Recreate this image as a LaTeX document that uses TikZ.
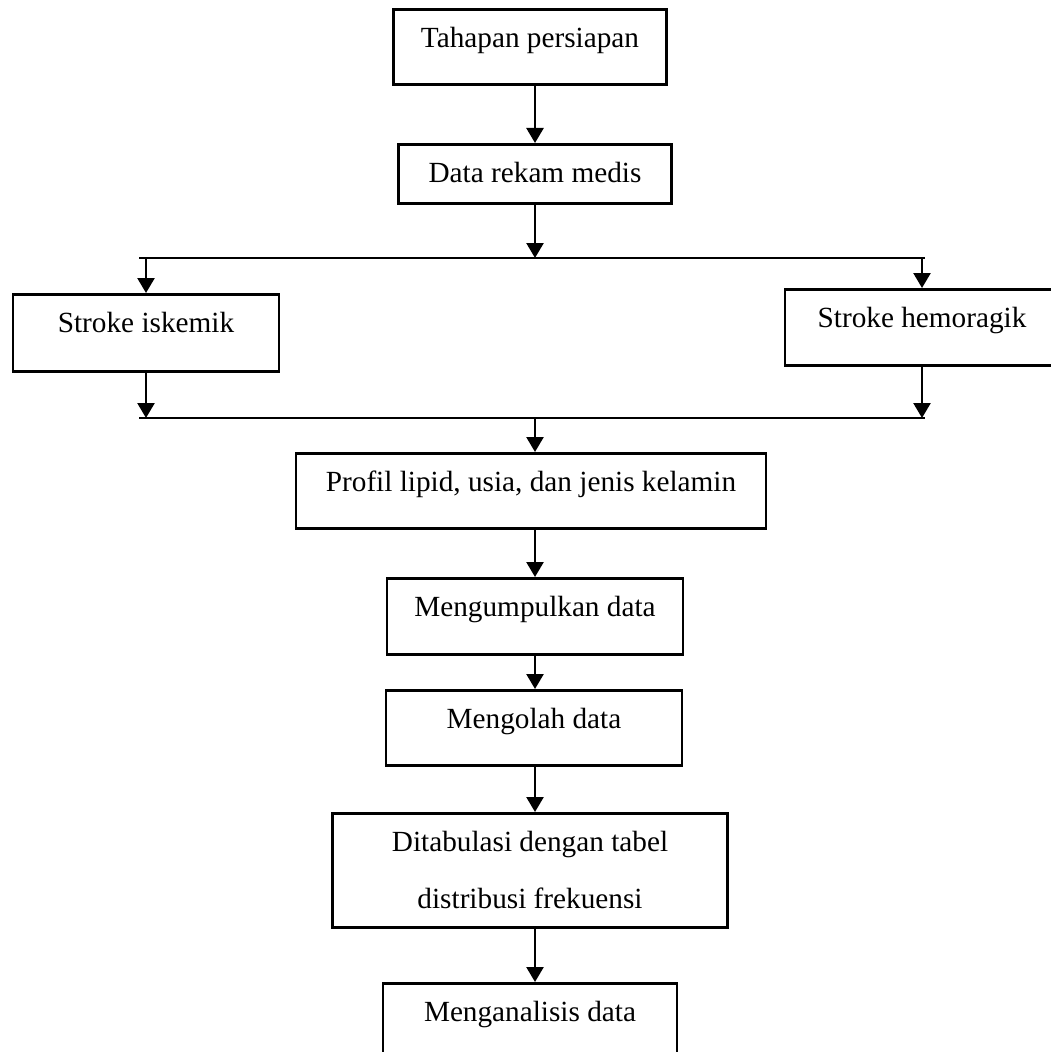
\documentclass[tikz,border=0pt]{standalone}
\usepackage{fontspec}
\setmainfont{Liberation Serif}
\usetikzlibrary{arrows.meta}

\tikzstyle{stepbox}=[draw,line width=1.1pt,rectangle,anchor=north,inner xsep=0pt,inner ysep=0pt,text height=15.2pt,font=\fontsize{11.7pt}{14pt}\selectfont]
\tikzstyle{flow} = [draw,line width=1pt,-{Triangle[width=6.8pt,length=6pt]}]
\tikzstyle{bar} = [draw,line width=1pt,-]
\newcommand{\fcunit}{0.4pt}

\begin{document}
\begin{tikzpicture}[x=\fcunit, y=-\fcunit]
    \useasboundingbox (0,0) rectangle (1051,1052);
    % First we draw the boxes
    \foreach \pos/\name/\boxw/\boxd/\txt in {{(530,8)/tahap/273/37/Tahapan persiapan},
        {(535,143)/rekam/273/21/Data rekam medis}, {(146,293)/iskemik/266/39/Stroke iskemik},
        {(922,288)/hemoragik/274/38/Stroke hemoragik},
        {(531,452)/profil/470/37/Profil lipid, usia, dan jenis kelamin},
        {(535,577)/kumpul/296/38/Mengumpulkan data}, {(534,689)/olah/296/37/Mengolah data},
        {(530,982)/analisis/294/42/Menganalisis data}}
        \node[stepbox, minimum width=\boxw*\fcunit, text depth=\boxd*\fcunit] (\name) at \pos {\txt};
    \node[stepbox, text height=, align=center, minimum width=395*\fcunit, minimum height=114*\fcunit,
        font=\fontsize{11.7pt}{22.8pt}\selectfont] (tabulasi) at (530,812)
        {Ditabulasi dengan tabel\\distribusi frekuensi};
    % Branch and join points
    \coordinate (spine) at (535,0);
    \coordinate (split) at (535,258);
    \coordinate (join) at (535,418);
    \path[bar] (139,258) -- (925,258);
    \path[bar] (139,418) -- (925,418);
    % Connect boxes with arrows
    \path[flow] (tahap.south -| spine) -- (rekam.north -| spine);
    \path[flow] (rekam.south -| spine) -- (split);
    \foreach \dest in {iskemik,hemoragik}
        \path[flow] (\dest.north |- split) -- (\dest.north);
    \foreach \source in {iskemik,hemoragik}
        \path[flow] (\source.south) -- (\source.south |- join);
    \path[flow] (join) -- (profil.north -| spine);
    \foreach \source/ \dest in {profil/kumpul,kumpul/olah,olah/tabulasi,tabulasi/analisis}
        \path[flow] (\source.south -| spine) -- (\dest.north -| spine);
\end{tikzpicture}
\end{document}
